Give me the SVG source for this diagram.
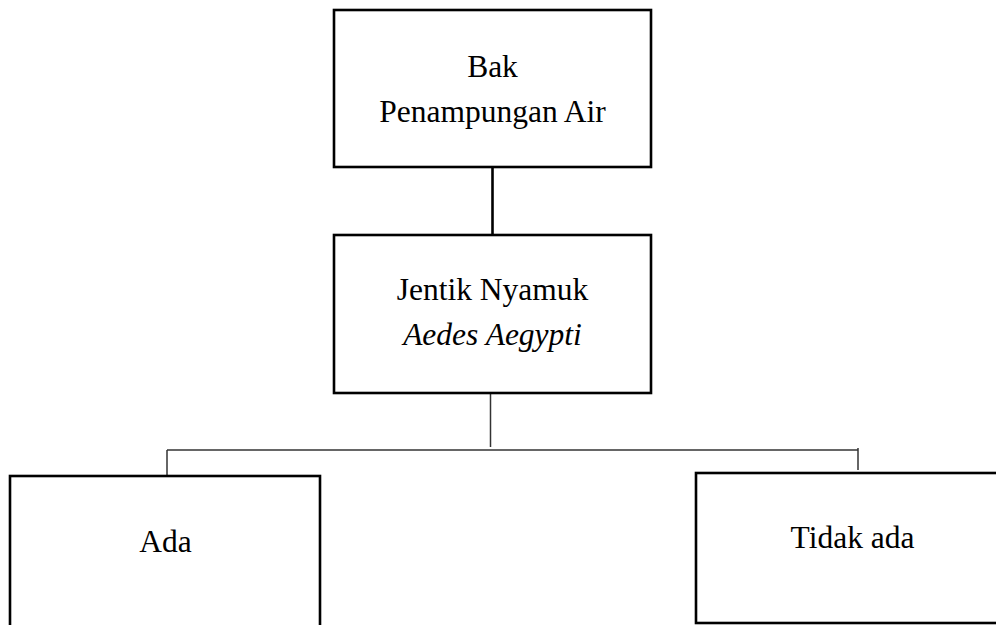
<svg xmlns="http://www.w3.org/2000/svg" width="996" height="625" viewBox="0 0 996 625">
<style>
.box{fill:#fff;stroke:#000;stroke-width:2.6}
.t{font-family:"Liberation Serif","Times New Roman",serif;font-size:31.5px;fill:#000;text-anchor:middle}
.it{font-style:italic}
.thick{stroke:#000;stroke-width:2.6;fill:none}
.thin{stroke:#333;stroke-width:1.5;fill:none}
</style>
<rect width="996" height="625" fill="#fff"/>
<g id="connectors">
<line class="thick" x1="492.5" y1="167" x2="492.5" y2="235"/>
<line class="thin" x1="490.5" y1="393" x2="490.5" y2="447"/>
<line class="thin" x1="167" y1="450" x2="858" y2="450"/>
<line class="thin" x1="167" y1="450" x2="167" y2="476"/>
<line class="thin" x1="858" y1="448" x2="858" y2="470"/>
</g>
<g id="node-bak">
<rect class="box" x="334" y="10" width="317" height="157"/>
<text class="t" x="492.5" y="77">Bak</text>
<text class="t" x="492.5" y="122">Penampungan Air</text>
</g>
<g id="node-jentik">
<rect class="box" x="334" y="235" width="317" height="158"/>
<text class="t" x="492.5" y="300">Jentik Nyamuk</text>
<text class="t it" x="492.5" y="345">Aedes Aegypti</text>
</g>
<g id="node-ada">
<rect class="box" x="10" y="476" width="310" height="170"/>
<text class="t" x="165.5" y="552">Ada</text>
</g>
<g id="node-tidak-ada">
<rect class="box" x="696" y="473" width="320" height="150"/>
<text class="t" x="852.5" y="548">Tidak ada</text>
</g>
</svg>
